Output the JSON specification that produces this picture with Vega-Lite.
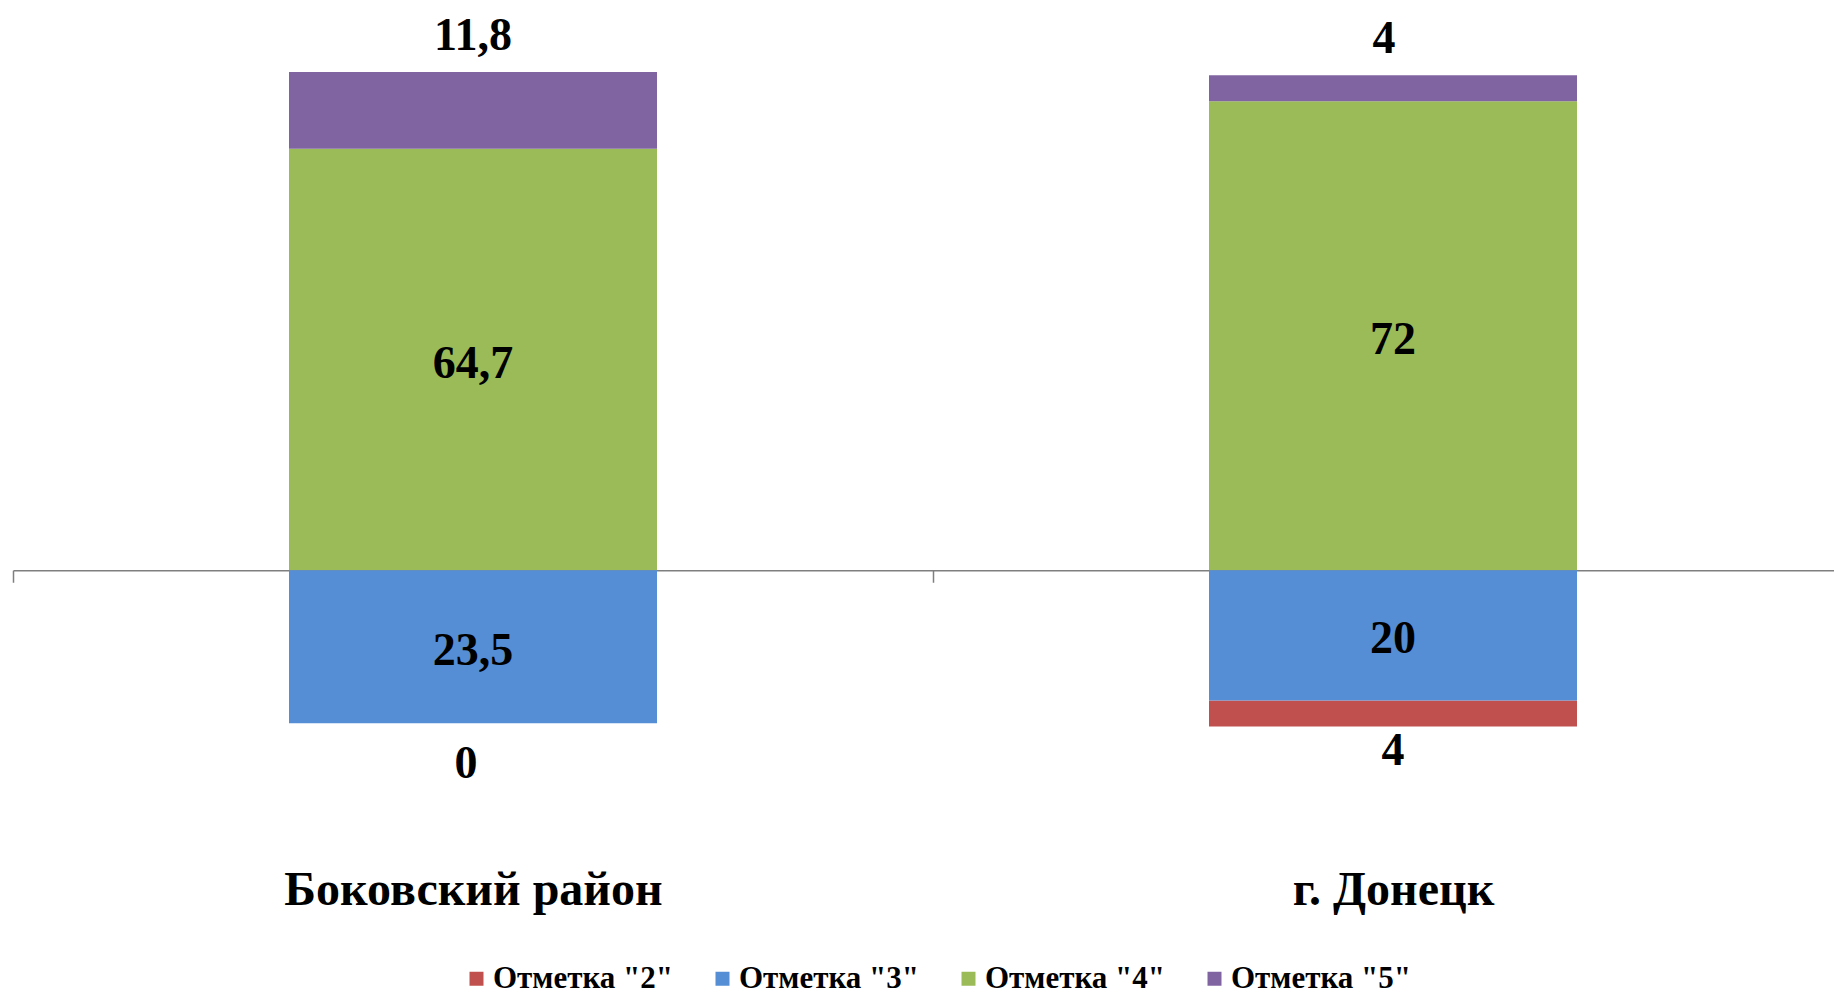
{
  "$schema": "https://vega.github.io/schema/vega-lite/v6.json",
  "width": 1821,
  "height": 886,
  "autosize": {"type": "none"},
  "padding": {"left": 13, "top": 10, "right": 0, "bottom": 98},
  "background": "white",
  "config": {"view": {"stroke": null}, "font": "Liberation Serif"},
  "data": {"values": [
    {"category": "Боковский  район", "grade": "Отметка \"2\"", "value": 0, "label": "0"},
    {"category": "Боковский  район", "grade": "Отметка \"3\"", "value": -23.5, "label": "23,5"},
    {"category": "Боковский  район", "grade": "Отметка \"4\"", "value": 64.7, "label": "64,7"},
    {"category": "Боковский  район", "grade": "Отметка \"5\"", "value": 11.8, "label": "11,8"},
    {"category": "г. Донецк", "grade": "Отметка \"2\"", "value": -4, "label": "4"},
    {"category": "г. Донецк", "grade": "Отметка \"3\"", "value": -20, "label": "20"},
    {"category": "г. Донецк", "grade": "Отметка \"4\"", "value": 72, "label": "72"},
    {"category": "г. Донецк", "grade": "Отметка \"5\"", "value": 4, "label": "4"}
  ]},
  "encoding": {
    "x": {
      "field": "category", "type": "nominal", "sort": null,
      "scale": {"range": [0, 1840], "paddingInner": 0.6, "paddingOuter": 0.3},
      "axis": {
        "title": null, "orient": "bottom", "offset": -325.74,
        "tickOffset": -460, "labelOffset": 460,
        "tickSize": 12, "tickColor": "#7f7f7f", "tickWidth": 1.5,
        "domainColor": "#7f7f7f", "domainWidth": 1.5,
        "labelAngle": 0, "labelFont": "Liberation Serif", "labelFontWeight": "bold",
        "labelFontSize": 48, "labelColor": "#000000", "labelBaseline": "alphabetic",
        "labelPadding": 322, "labelLimit": 0
      }
    }
  },
  "layer": [
    {
      "transform": [{"filter": "datum.value > 0"}],
      "mark": {"type": "bar"},
      "encoding": {
        "y": {"field": "value", "type": "quantitative", "stack": "zero",
              "scale": {"domain": [-50, 86], "nice": false, "zero": false}, "axis": null},
        "color": {"field": "grade", "type": "nominal",
          "scale": {"domain": ["Отметка \"2\"", "Отметка \"3\"", "Отметка \"4\"", "Отметка \"5\""],
                    "range": ["#C0504D", "#558ED5", "#9BBB59", "#8064A2"]},
          "legend": {
            "title": null, "orient": "none", "legendX": 448, "legendY": 953,
            "direction": "horizontal", "columns": 4, "columnPadding": 33,
            "symbolType": "square", "symbolSize": 196, "symbolStrokeWidth": 0,
            "labelFont": "Liberation Serif", "labelFontWeight": "bold", "labelFontSize": 31,
            "labelColor": "#000000", "labelOffset": 1, "labelLimit": 0
          }},
        "order": {"field": "grade", "sort": "ascending"}
      }
    },
    {
      "transform": [{"filter": "datum.value <= 0"}],
      "mark": {"type": "bar"},
      "encoding": {
        "y": {"field": "value", "type": "quantitative", "stack": "zero"},
        "color": {"field": "grade", "type": "nominal"},
        "order": {"field": "grade", "sort": "descending"}
      }
    },
    {
      "transform": [
        {"filter": "datum.grade == 'Отметка \"3\"' || datum.grade == 'Отметка \"4\"'"},
        {"stack": "value", "groupby": ["category", "grade"], "as": ["s0", "s1"]},
        {"fold": ["s0", "s1"], "as": ["end", "pos"]},
        {"aggregate": [{"op": "mean", "field": "pos", "as": "mid"}], "groupby": ["category", "grade", "label"]}
      ],
      "mark": {"type": "text", "font": "Liberation Serif", "fontWeight": "bold", "fontSize": 46, "color": "#000000", "baseline": "middle", "dy": 4},
      "encoding": {
        "y": {"field": "mid", "type": "quantitative"},
        "text": {"field": "label"}
      }
    },
    {
      "transform": [
        {"filter": "datum.grade == 'Отметка \"4\"' || datum.grade == 'Отметка \"5\"'"},
        {"joinaggregate": [{"op": "sum", "field": "value", "as": "top"}], "groupby": ["category"]},
        {"filter": "datum.grade == 'Отметка \"5\"' && datum.category == 'Боковский  район'"}
      ],
      "mark": {"type": "text", "font": "Liberation Serif", "fontWeight": "bold", "fontSize": 46, "color": "#000000", "baseline": "middle", "dy": -36},
      "encoding": {
        "y": {"field": "top", "type": "quantitative"},
        "text": {"field": "label"}
      }
    },
    {
      "transform": [
        {"filter": "datum.grade == 'Отметка \"4\"' || datum.grade == 'Отметка \"5\"'"},
        {"joinaggregate": [{"op": "sum", "field": "value", "as": "top"}], "groupby": ["category"]},
        {"filter": "datum.grade == 'Отметка \"5\"' && datum.category == 'г. Донецк'"}
      ],
      "mark": {"type": "text", "font": "Liberation Serif", "fontWeight": "bold", "fontSize": 46, "color": "#000000", "baseline": "middle", "dy": -36, "dx": -9},
      "encoding": {
        "y": {"field": "top", "type": "quantitative"},
        "text": {"field": "label"}
      }
    },
    {
      "transform": [
        {"filter": "datum.grade == 'Отметка \"2\"' || datum.grade == 'Отметка \"3\"'"},
        {"joinaggregate": [{"op": "sum", "field": "value", "as": "bottom"}], "groupby": ["category"]},
        {"filter": "datum.grade == 'Отметка \"2\"' && datum.category == 'Боковский  район'"}
      ],
      "mark": {"type": "text", "font": "Liberation Serif", "fontWeight": "bold", "fontSize": 46, "color": "#000000", "baseline": "middle", "dy": 41, "dx": -7},
      "encoding": {
        "y": {"field": "bottom", "type": "quantitative"},
        "text": {"field": "label"}
      }
    },
    {
      "transform": [
        {"filter": "datum.grade == 'Отметка \"2\"' || datum.grade == 'Отметка \"3\"'"},
        {"joinaggregate": [{"op": "sum", "field": "value", "as": "bottom"}], "groupby": ["category"]},
        {"filter": "datum.grade == 'Отметка \"2\"' && datum.category == 'г. Донецк'"}
      ],
      "mark": {"type": "text", "font": "Liberation Serif", "fontWeight": "bold", "fontSize": 46, "color": "#000000", "baseline": "middle", "dy": 24},
      "encoding": {
        "y": {"field": "bottom", "type": "quantitative"},
        "text": {"field": "label"}
      }
    }
  ]
}
